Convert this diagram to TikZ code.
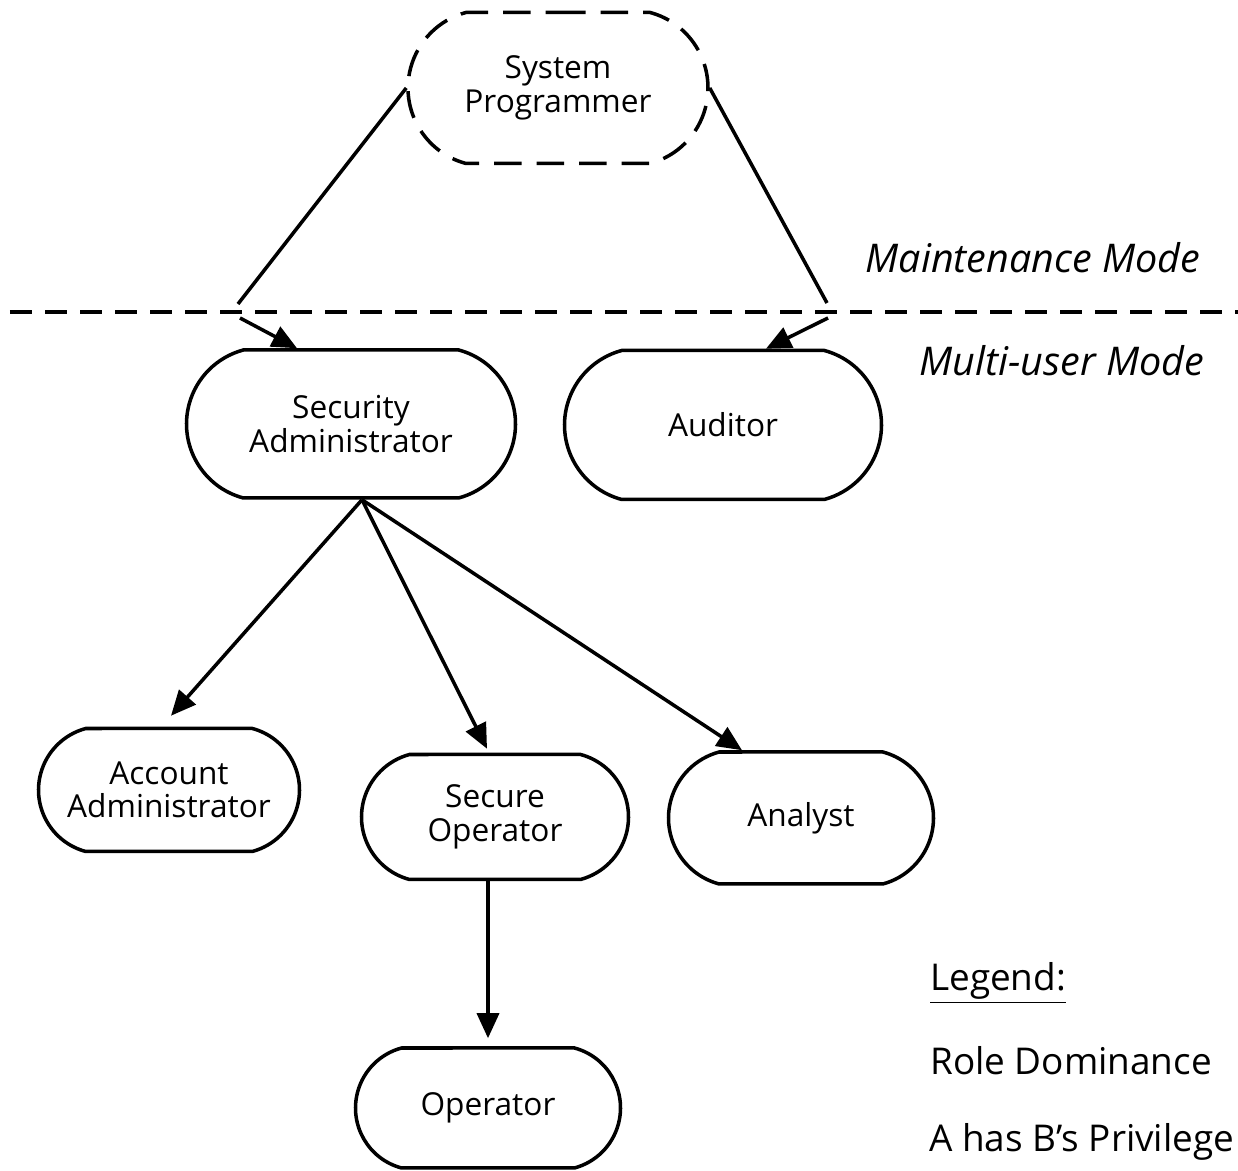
\documentclass[tikz,border=0pt]{standalone}
\usepackage{fontspec}
\setmainfont{Open Sans}
\usetikzlibrary{calc, shapes.misc, arrows.meta}

\begin{document}
\begin{tikzpicture}[
rl/.style = {% roles
    draw, line width=2pt, rounded rectangle, rounded rectangle arc length=150,
    align=center, inner sep=2pt, font=\fontsize{18}{19}\selectfont,
            },
ar/.style = {line width=2pt, -{Triangle[length=5mm,width=4.4mm]}},
md/.style = {font=\fontsize{22.5}{24}\selectfont\itshape},
lg/.style = {anchor=west, font=\fontsize{21}{24}\selectfont},
                        ]
\useasboundingbox (0,0) rectangle (24.76,23.42);
% roles
\node[rl, dash pattern=on 0.55cm off 0.3cm, minimum width=6.14cm, minimum height=3.02cm]
      (sp) at (11.16,21.66) {System\\Programmer};
\node[rl, minimum width=6.72cm, minimum height=2.96cm] (sa)  at (7.02,14.94)  {Security\\Administrator};
\node[rl, minimum width=6.48cm, minimum height=2.98cm] (aud) at (14.46,14.92) {Auditor};
\node[rl, minimum width=5.36cm, minimum height=2.46cm] (acc) at (3.38,7.62)   {Account\\Administrator};
\node[rl, minimum width=5.48cm, minimum height=2.50cm] (so)  at (9.90,7.08)   {Secure\\Operator};
\node[rl, minimum width=5.44cm, minimum height=2.64cm] (an)  at (16.02,7.06)  {Analyst};
\node[rl, minimum width=5.44cm, minimum height=2.40cm] (op)  at (9.76,1.26)   {Operator};
% modes
\draw[line width=2pt, dash pattern=on 0.44cm off 0.26cm] (0.2,17.18) -- (24.76,17.18);
\node[md] (mm) at (20.66,18.26) {Maintenance Mode};
\node[md] (mu) at (21.24,16.20) {Multi-user Mode};
% edges across the modes
\coordinate (lu) at (4.76,17.34);
\coordinate (ll) at (4.80,17.06);
\coordinate (ru) at (16.54,17.36);
\coordinate (rl) at (16.56,17.06);
\draw[line width=2pt] (sp.west) -- (lu);
\draw[ar] (ll) -- ($(sa.north)+(-1.08,0)$);
\draw[line width=2pt] (sp.east) -- (ru);
\draw[ar] (rl) -- ($(aud.north)+(0.86,0)$);
% dominance
\coordinate (sao) at ($(sa.south)+(0.22,0)$);
\draw[ar] (sao) -- ($(acc.north)+(0.04,0.22)$);
\draw[ar] (sao) -- ($(so.north)+(-0.16,0.08)$);
\draw[ar] (sao) -- ($(an.north)+(-1.18,0)$);
\draw[ar] (op.north |- so.south) -- ($(op.north)+(0,0.16)$);
% legend
\node[lg] (lgd) at (18.48,3.76) {\underline{Legend:}};
\node[lg] (rd)  at (18.48,2.20) {Role Dominance};
\node[lg] (ab)  at (18.46,0.58) {A has B’s Privilege};
\end{tikzpicture}
\end{document}
